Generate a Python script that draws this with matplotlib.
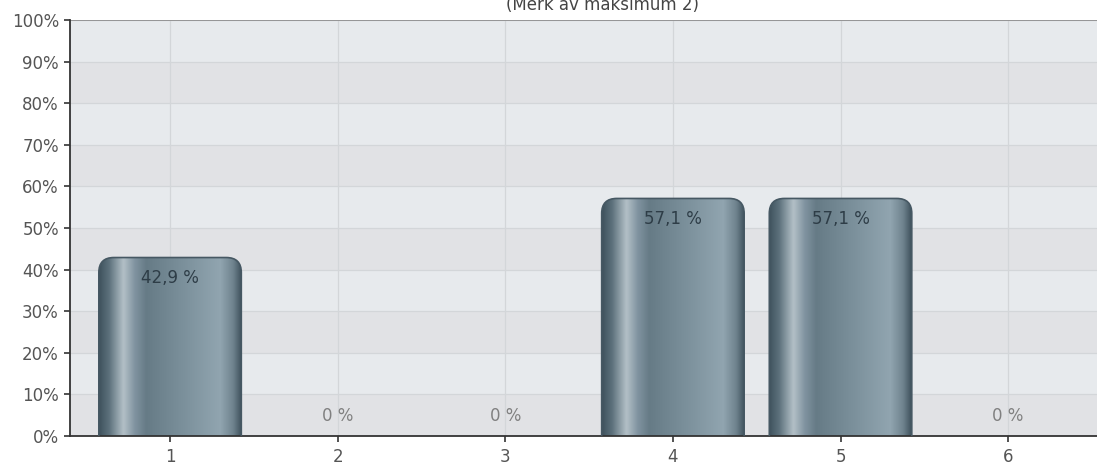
import matplotlib.pyplot as plt
import numpy as np
from matplotlib.patches import FancyBboxPatch
from matplotlib.colors import LinearSegmentedColormap

# Data
categories = ["1", "2", "3", "4", "5", "6"]
values = [42.9, 0, 0, 57.1, 57.1, 0]
labels = ["42,9 %", "0 %", "0 %", "57,1 %", "57,1 %", "0 %"]
yticks = list(range(0, 101, 10))

plt.rcParams['font.family'] = ['DejaVu Sans']

fig = plt.figure(figsize=(10.97, 4.67), dpi=100)
W, H = 1097, 467
ax = fig.add_axes([70 / W, 31 / H, 1027 / W, 416 / H])

x = np.arange(1, len(categories) + 1)
ax.set_xlim(0.403, 6.53)
ax.set_ylim(0, 100)

# background bands
ax.set_facecolor("#e7eaed")
for i, lo in enumerate(yticks[:-1]):
    if i % 2 == 0:
        ax.axhspan(lo, lo + 10, color="#e1e2e5", zorder=0, lw=0)
ax.grid(True, color="#d3d6d9", lw=0.9, zorder=0.5)
ax.set_axisbelow(True)
ax.axhline(100, color="#8a8a8a", lw=1.2, zorder=1)

# cylinder-like gradient for the bars
cmap = LinearSegmentedColormap.from_list("cyl", [
    (0.00, "#3f525d"), (0.07, "#5d717c"), (0.17, "#b3c0c7"), (0.25, "#8093a0"),
    (0.33, "#667b86"), (0.60, "#7c919c"), (0.85, "#91a5b0"), (0.94, "#6f838e"),
    (1.00, "#3e505b")])
grad = np.linspace(0, 1, 256).reshape(1, -1)

bars = ax.bar(x, values, width=0.85, color="none", zorder=2)
px_per_x = 167.6
px_per_y = 4.16
for b in bars:
    h = b.get_height()
    if h <= 0:
        continue
    x0, w = b.get_x(), b.get_width()
    patch = FancyBboxPatch((x0, -10), w, h + 10,
                           boxstyle="round,pad=0,rounding_size=%f" % (15 / px_per_x),
                           mutation_aspect=px_per_x / px_per_y,
                           facecolor="none", edgecolor="#465863", lw=1.2, zorder=3)
    ax.add_patch(patch)
    im = ax.imshow(grad, cmap=cmap, aspect="auto", extent=(x0, x0 + w, 0, h),
                   zorder=2.5, interpolation="bicubic")
    im.set_clip_path(patch)

for xi, v, lab in zip(x, values, labels):
    if v > 0:
        ax.annotate(lab, (xi, v), xytext=(0, -15), textcoords="offset points",
                    ha="center", va="center", fontsize=12, color="#2e3d47", zorder=4)
    else:
        ax.annotate(lab, (xi, 0), xytext=(0, 14.5), textcoords="offset points",
                    ha="center", va="center", fontsize=12, color="#808080", zorder=4)

ax.set_xticks(x)
ax.set_xticklabels(categories)
ax.set_yticks(yticks)
ax.set_yticklabels([f"{t}%" for t in yticks])
ax.tick_params(axis="both", labelsize=12, colors="#333333", labelcolor="#555555",
               length=4, width=1.2)
ax.tick_params(axis="y", pad=4)
ax.tick_params(axis="x", pad=5)
for s in ["top", "right"]:
    ax.spines[s].set_visible(False)
ax.spines["left"].set_color("#333333")
ax.spines["bottom"].set_color("#333333")
ax.spines["left"].set_linewidth(1.3)
ax.spines["bottom"].set_linewidth(1.3)

fig.text(602 / W, 10 / H, "(Merk av maksimum 2)", ha="center", va="baseline",
         fontsize=12, color="#444444", transform=fig.transFigure)
fig.texts[-1].set_y(1 - 10 / H)

fig.savefig("out.png", dpi=100)
